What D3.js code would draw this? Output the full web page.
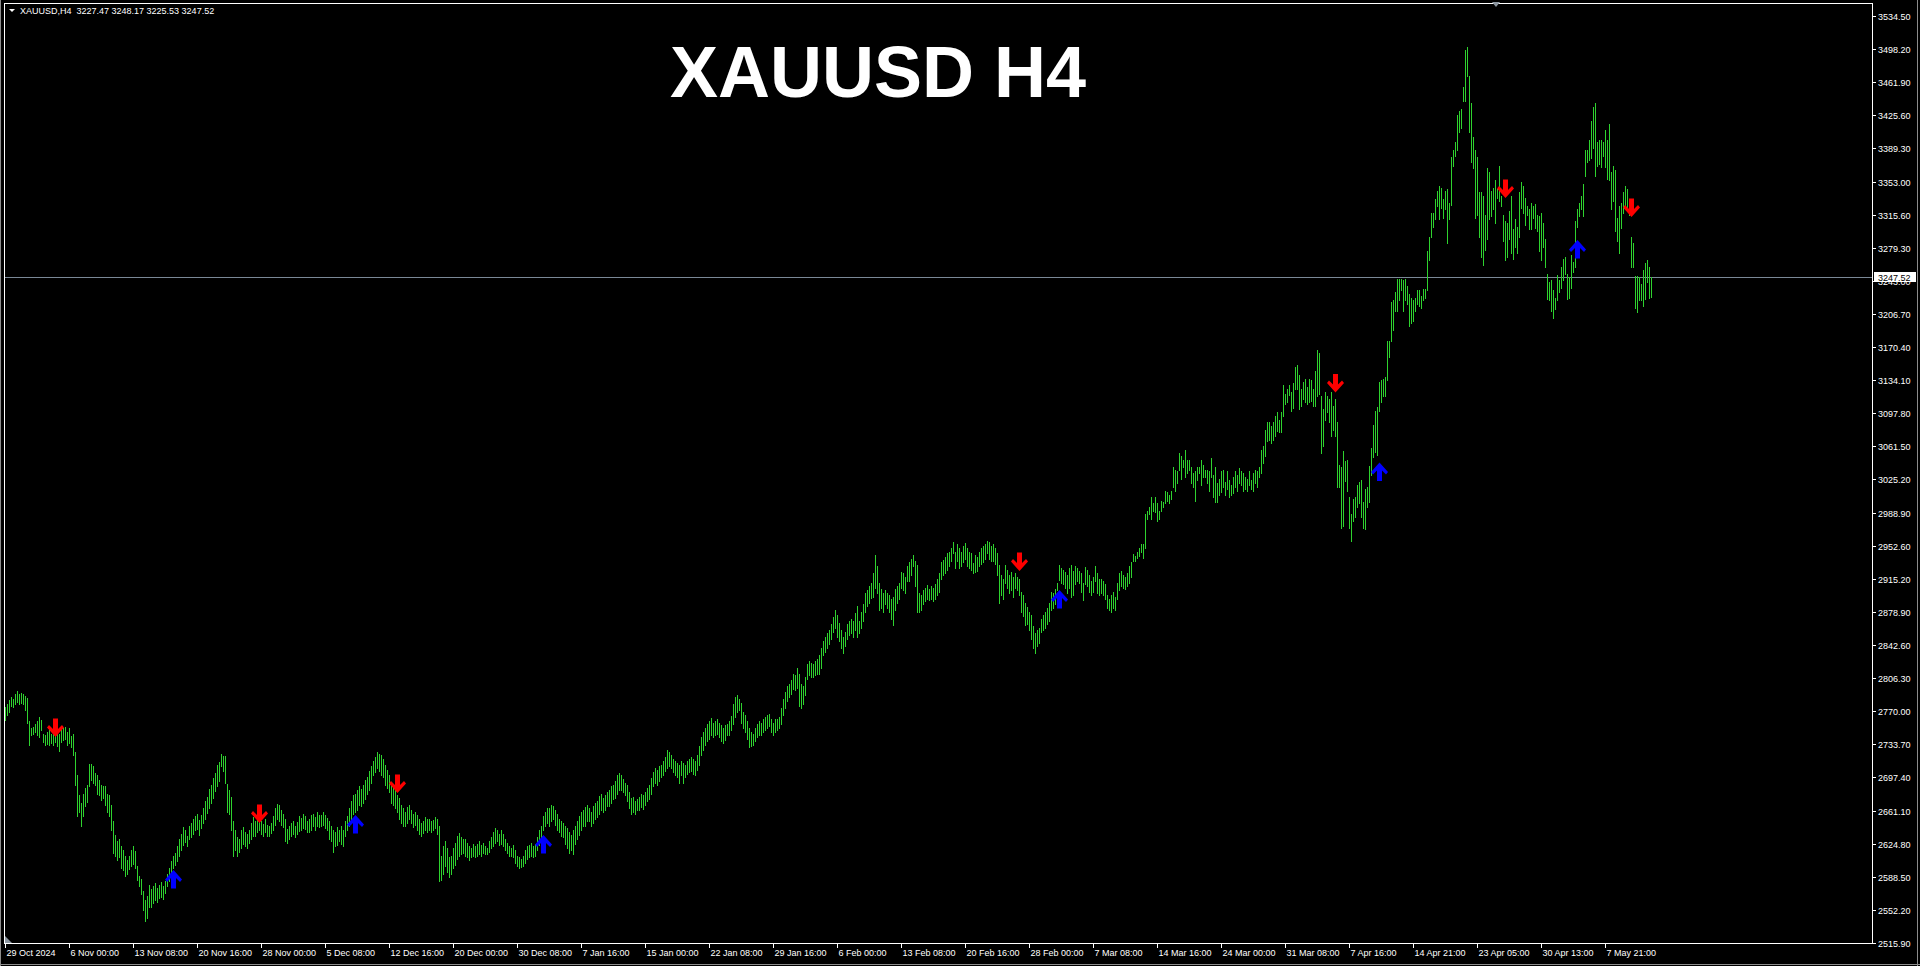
<!DOCTYPE html>
<html><head><meta charset="utf-8">
<script src="https://cdn.jsdelivr.net/npm/d3@7"></script>
<style>html,body{margin:0;padding:0;background:#000;overflow:hidden}svg{display:block}</style>
</head><body>
<svg id="c" width="1920" height="966"></svg>
<script>
// ---- DATA (XAUUSD H4 bars: high / low per bar) ----
const symbol = "XAUUSD,H4";
const lastOHLC = ["3227.47", "3248.17", "3225.53", "3247.52"];
const lastPrice = 3247.52;
const titleText = "XAUUSD H4";

const highs = [
2775,2778,
2783,2786,2784,2790,2793,2789, 2791,2789,2787,2785,2760,2752, 2753,2757,2760,2764,2761,2746,
2744,2748,2750,2746,2749,2748, 2750,2746,2750,2752,2753,2748, 2752,2743,2746,2726,2700,2678,
2670,2680,2686,2689,2713,2713, 2710,2703,2700,2695,2690,2688, 2688,2680,2678,2668,2650,2635,
2628,2630,2622,2618,2612,2607, 2612,2618,2622,2617,2600,2590, 2586,2573,2563,2567,2580,2575,
2578,2582,2576,2580,2583,2579, 2584,2592,2598,2606,2611,2615, 2622,2630,2636,2643,2640,2634,
2645,2648,2652,2655,2658,2651, 2656,2664,2672,2676,2685,2690, 2697,2703,2711,2715,2724,2721,
2721,2691,2684,2676,2650,2640, 2632,2630,2640,2643,2638,2636, 2640,2648,2654,2650,2652,2656,
2650,2647,2652,2646,2644,2648, 2655,2664,2669,2668,2662,2658, 2652,2641,2645,2648,2650,2645,
2649,2655,2653,2658,2655,2650, 2652,2656,2658,2654,2660,2657, 2656,2660,2657,2653,2650,2645,
2640,2638,2643,2640,2644,2640, 2650,2655,2664,2672,2678,2680, 2684,2688,2685,2690,2695,2698,
2705,2710,2716,2720,2726,2724, 2722,2718,2712,2706,2700,2690, 2688,2684,2678,2675,2668,2664,
2660,2665,2668,2662,2658,2660, 2656,2652,2648,2650,2654,2652, 2652,2650,2651,2654,2652,2644,
2612,2622,2628,2620,2610,2612, 2620,2626,2634,2637,2632,2630, 2630,2626,2622,2620,2625,2622,
2625,2628,2624,2626,2622,2620, 2628,2632,2638,2642,2640,2636, 2640,2636,2630,2626,2622,2620,
2624,2618,2612,2610,2608,2612, 2618,2622,2624,2626,2622,2625, 2632,2640,2645,2655,2660,2664,
2664,2668,2666,2662,2658,2652, 2650,2648,2645,2642,2638,2635, 2640,2645,2650,2655,2660,2662,
2665,2668,2664,2660,2666,2670, 2672,2677,2680,2675,2678,2682, 2684,2688,2690,2694,2700,2703,
2700,2696,2692,2690,2682,2675, 2676,2672,2674,2676,2680,2679, 2682,2686,2690,2697,2704,2708,
2706,2710,2712,2716,2720,2728, 2726,2722,2718,2716,2714,2712, 2716,2714,2712,2716,2718,2720,
2718,2716,2722,2732,2742,2748, 2752,2756,2760,2763,2758,2760, 2762,2758,2755,2752,2755,2756,
2760,2765,2778,2786,2788,2784, 2780,2770,2766,2760,2752,2748, 2746,2752,2756,2760,2758,2762,
2764,2766,2768,2762,2758,2762, 2762,2764,2774,2784,2792,2798, 2800,2805,2812,2810,2818,2812,
2800,2798,2808,2822,2826,2824, 2822,2826,2828,2832,2840,2848, 2852,2856,2860,2866,2874,2882,
2876,2868,2860,2852,2858,2866, 2870,2872,2870,2878,2886,2870, 2880,2888,2900,2904,2908,2912,
2922,2942,2930,2912,2905,2900, 2904,2900,2898,2894,2896,2905, 2908,2912,2924,2922,2918,2930,
2934,2938,2942,2936,2931,2900, 2898,2904,2906,2909,2905,2908, 2906,2910,2916,2922,2934,2937,
2940,2944,2946,2950,2956,2946, 2954,2950,2946,2952,2955,2950, 2946,2944,2933,2942,2940,2946,
2950,2952,2954,2958,2956,2952, 2954,2950,2944,2931,2920,2916, 2931,2926,2920,2924,2918,2922,
2918,2916,2902,2898,2889,2885, 2880,2876,2864,2856,2860,2862, 2872,2876,2880,2884,2890,2902,
2900,2905,2912,2931,2928,2926, 2924,2920,2928,2931,2925,2930, 2928,2925,2922,2911,2929,2926,
2920,2914,2918,2930,2922,2916, 2916,2914,2910,2898,2894,2898, 2902,2896,2912,2922,2925,2920,
2918,2922,2930,2934,2943,2941, 2946,2950,2954,2954,2987,2991, 2995,3006,2999,3006,2999,2991,
3002,3000,3013,3012,3008,3013, 3039,3036,3034,3054,3051,3047, 3058,3047,3047,3039,3032,3034,
3039,3039,3047,3041,3036,3036, 3034,3049,3030,3039,3021,3026, 3034,3036,3023,3034,3025,3019,
3028,3034,3030,3038,3034,3032, 3028,3026,3034,3025,3032,3036, 3034,3039,3058,3062,3080,3088,
3088,3084,3088,3095,3099,3091, 3099,3129,3119,3125,3129,3121, 3131,3149,3151,3140,3125,3132,
3136,3127,3136,3134,3125,3144, 3168,3164,3117,3103,3121,3117, 3114,3121,3106,3114,3088,3041,
3039,3056,3045,3047,3006,2987, 3004,3006,3019,3023,3025,3000, 3015,3017,3040,3060,3085,3100,
3105,3132,3134,3136,3138,3177, 3177,3220,3222,3231,3246,3246, 3246,3244,3246,3238,3229,3225,
3222,3225,3233,3233,3227,3235, 3235,3276,3292,3318,3318,3333, 3342,3348,3346,3333,3342,3344,
3329,3380,3387,3396,3426,3430, 3432,3456,3497,3500,3469,3439, 3402,3387,3380,3341,3341,3337,
3316,3368,3363,3342,3346,3354, 3344,3370,3337,3316,3309,3307, 3320,3337,3301,3311,3303,3341,
3352,3348,3335,3326,3322,3329, 3326,3328,3316,3315,3318,3307, 3290,3251,3242,3244,3233,3225,
3250,3244,3259,3268,3270,3251, 3248,3272,3264,3309,3322,3329, 3337,3350,3387,3387,3398,3419,
3435,3439,3396,3398,3398,3396, 3409,3398,3416,3363,3370,3365, 3313,3326,3329,3341,3348,3344,
3333,3292,3285,3249,3249,3248, 3240,3255,3263,3266,3259,3248.17
];

const lows = [
2761,2766,
2770,2776,2775,2779,2781,2779, 2780,2778,2772,2758,2733,2744, 2746,2748,2744,2742,2750,2737,
2733,2735,2734,2736,2734,2737, 2732,2727,2737,2739,2740,2734, 2736,2731,2722,2690,2655,2660,
2645,2655,2666,2671,2688,2695, 2692,2689,2680,2678,2673,2675, 2668,2660,2655,2640,2615,2612,
2607,2610,2598,2596,2590,2592, 2597,2600,2603,2598,2585,2578, 2570,2552,2540,2543,2556,2555,
2560,2563,2561,2565,2566,2564, 2571,2578,2584,2590,2598,2602, 2606,2612,2618,2624,2627,2622,
2630,2632,2636,2640,2641,2635, 2642,2648,2652,2659,2664,2670, 2675,2683,2688,2694,2710,2705,
2692,2660,2658,2640,2612,2618, 2612,2616,2620,2625,2622,2620, 2626,2630,2634,2634,2638,2640,
2636,2633,2638,2634,2634,2637, 2640,2646,2652,2650,2646,2643, 2628,2626,2630,2633,2636,2632,
2636,2639,2640,2642,2641,2638, 2638,2640,2644,2640,2645,2643, 2644,2646,2642,2640,2630,2628,
2616,2622,2624,2628,2625,2622, 2634,2640,2645,2652,2658,2660, 2662,2668,2666,2670,2674,2680,
2684,2692,2700,2704,2708,2705, 2700,2698,2690,2686,2682,2670, 2668,2664,2660,2652,2648,2645,
2645,2648,2652,2648,2643,2646, 2640,2636,2634,2637,2640,2638, 2640,2638,2640,2642,2636,2584,
2585,2592,2600,2594,2588,2592, 2598,2602,2608,2612,2614,2615, 2612,2610,2607,2610,2612,2610,
2612,2614,2612,2615,2614,2614, 2616,2620,2622,2626,2628,2624, 2625,2622,2618,2615,2612,2612,
2610,2604,2600,2598,2599,2600, 2604,2608,2610,2612,2610,2612, 2618,2624,2630,2640,2645,2648,
2645,2650,2652,2646,2640,2638, 2634,2632,2625,2620,2615,2618, 2614,2625,2630,2635,2640,2644,
2645,2650,2650,2645,2648,2652, 2654,2658,2662,2660,2662,2666, 2666,2670,2674,2675,2680,2684,
2684,2682,2678,2672,2664,2658, 2660,2658,2662,2662,2665,2663, 2668,2672,2674,2680,2688,2692,
2690,2694,2698,2700,2705,2708, 2710,2708,2704,2700,2698,2692, 2700,2692,2698,2702,2704,2705,
2702,2700,2706,2712,2722,2728, 2734,2738,2740,2744,2742,2745, 2746,2742,2738,2736,2739,2744,
2745,2750,2756,2764,2770,2772, 2758,2752,2748,2740,2731,2732, 2733,2738,2742,2744,2745,2748,
2750,2752,2754,2748,2744,2748, 2750,2752,2756,2766,2774,2782, 2786,2790,2795,2794,2796,2776,
2774,2778,2788,2806,2810,2808, 2808,2810,2812,2812,2818,2832, 2836,2840,2844,2850,2858,2862,
2852,2848,2840,2835,2842,2850, 2854,2856,2852,2860,2852,2856, 2862,2870,2880,2886,2890,2895,
2896,2906,2900,2882,2884,2880, 2888,2884,2880,2872,2865,2882, 2890,2894,2906,2904,2900,2914,
2914,2920,2930,2908,2880,2880, 2882,2888,2892,2894,2893,2894, 2892,2894,2898,2902,2916,2920,
2922,2926,2930,2936,2944,2928, 2936,2928,2930,2934,2938,2930, 2928,2926,2922,2924,2925,2930,
2932,2935,2938,2944,2938,2936, 2936,2932,2920,2889,2898,2894, 2911,2906,2900,2904,2896,2906,
2904,2898,2880,2875,2865,2866, 2860,2850,2840,2835,2842,2846, 2858,2860,2862,2866,2870,2882,
2884,2888,2904,2915,2912,2910, 2906,2900,2906,2896,2898,2910, 2914,2912,2902,2893,2910,2908,
2902,2898,2902,2914,2900,2898, 2900,2898,2894,2884,2882,2880, 2884,2882,2894,2904,2908,2906,
2905,2908,2912,2918,2936,2936, 2939,2941,2945,2939,2950,2982, 2987,2982,2991,2989,2980,2982,
2991,2995,2999,3002,2999,3004, 3017,3013,3021,3036,3026,3039, 3028,3032,3036,3021,3017,3002,
3025,3032,3019,3028,3028,3021, 3013,3028,3006,3000,3000,3008, 3011,3017,3008,3015,3006,3008,
3010,3017,3013,3021,3019,3013, 3015,3013,3019,3015,3013,3021, 3017,3028,3032,3043,3051,3067,
3069,3065,3069,3073,3078,3077, 3077,3095,3108,3110,3118,3101, 3104,3125,3125,3103,3106,3114,
3110,3108,3110,3112,3106,3106, 3117,3119,3054,3062,3091,3099, 3088,3073,3080,3073,3017,3017,
2972,2974,3024,3013,2972,2958, 2980,2984,2995,2999,2984,2972, 2971,2995,3000,3030,3050,3055,
3052,3100,3110,3117,3117,3135, 3160,3177,3190,3210,3210,3222, 3233,3210,3222,3218,3194,3197,
3199,3210,3218,3216,3214,3222, 3225,3233,3266,3292,3303,3311, 3326,3311,3324,3313,3322,3285,
3311,3327,3370,3381,3387,3407, 3411,3441,3441,3469,3407,3374, 3367,3313,3316,3292,3270,3261,
3277,3289,3311,3315,3322,3307, 3335,3331,3326,3287,3266,3270, 3289,3274,3268,3281,3274,3292,
3324,3318,3305,3316,3300,3300, 3313,3302,3298,3276,3266,3281, 3259,3223,3222,3210,3203,3212,
3222,3231,3236,3244,3251,3223, 3225,3236,3253,3259,3303,3315, 3322,3315,3359,3374,3376,3378,
3389,3359,3370,3372,3369,3381, 3369,3355,3354,3322,3331,3298, 3287,3274,3302,3318,3326,3320,
3316,3259,3259,3214,3209,3222, 3222,3216,3223,3242,3225,3225.53
];

// signal arrows: bar index and price at arrow tip
const sellIdx   = [25, 127, 196, 507, 665, 750, 813];
const sellPrice = [2742.3, 2647.8, 2680.7, 2924.6, 3120.8, 3334.5, 3313.6];
const buyIdx    = [84, 175, 269, 527, 687, 786];
const buyPrice  = [2596.1, 2656.5, 2634.6, 2903.8, 3043.9, 3288.4];

// price axis labels (top to bottom)
const priceLabels = ["3534.50","3498.20","3461.90","3425.60","3389.30","3353.00","3315.60","3279.30","3243.00",
"3206.70","3170.40","3134.10","3097.80","3061.50","3025.20","2988.90","2952.60","2915.20","2878.90","2842.60",
"2806.30","2770.00","2733.70","2697.40","2661.10","2624.80","2588.50","2552.20","2515.90"];
const priceMin = 2515.90, priceMax = 3534.50;

// time axis labels, one every 32 bars
const timeLabels = ["29 Oct 2024","6 Nov 00:00","13 Nov 08:00","20 Nov 16:00","28 Nov 00:00","5 Dec 08:00",
"12 Dec 16:00","20 Dec 00:00","30 Dec 08:00","7 Jan 16:00","15 Jan 00:00","22 Jan 08:00","29 Jan 16:00",
"6 Feb 00:00","13 Feb 08:00","20 Feb 16:00","28 Feb 00:00","7 Mar 08:00","14 Mar 16:00","24 Mar 00:00",
"31 Mar 08:00","7 Apr 16:00","14 Apr 21:00","23 Apr 05:00","30 Apr 13:00","7 May 21:00"];
const labelStep = 32;

// ---- DRAW ----
const svg = d3.select("#c");
const W = 1920, H = 966;
const L = 4, R = 1872, T = 3, B = 943;
const x = d3.scaleLinear().domain([0, 800]).range([5, 1605]);
const y = d3.scaleLinear().domain([priceMin, priceMax]).range([B, 16]);
const font = "'Liberation Sans', Arial, sans-serif";

svg.append("rect").attr("width", W).attr("height", H).attr("fill", "#000");

// window border
svg.append("line").attr("x1",0.5).attr("x2",0.5).attr("y1",0).attr("y2",H).attr("stroke","#8c8c8c");
svg.append("line").attr("x1",1917.5).attr("x2",1917.5).attr("y1",0).attr("y2",H).attr("stroke","#8c8c8c");
svg.append("line").attr("x1",0).attr("x2",W).attr("y1",964.5).attr("y2",964.5).attr("stroke","#8c8c8c");

// chart frame
svg.append("path").attr("d", `M${L+0.5},${B+0.5}V${T+0.5}H${R+0.5}V${B+0.5}H${L+0.5}`)
  .attr("fill","none").attr("stroke","#ffffff").attr("stroke-width",1).attr("shape-rendering","crispEdges");

// current price line
const yl = Math.round(y(lastPrice)) + 0.5;
svg.append("line").attr("x1", L+1).attr("x2", R).attr("y1", yl).attr("y2", yl)
  .attr("stroke", "#7a8896").attr("stroke-width", 1).attr("shape-rendering","crispEdges");

// bars
const n = Math.min(highs.length, lows.length);
const bars = d3.range(n).map(i => ({i, h: highs[i], l: lows[i]}));
svg.append("g").attr("shape-rendering","crispEdges").selectAll("line").data(bars).join("line")
  .attr("x1", d => Math.round(x(d.i)) + 0.5).attr("x2", d => Math.round(x(d.i)) + 0.5)
  .attr("y1", d => Math.round(y(d.h))).attr("y2", d => Math.round(y(d.l)) + 1)
  .attr("stroke", "#2ed22e").attr("stroke-width", 1);

// arrows
const downPath = "M-2.5,0H2.5V10.5L6.5,6.5L8.5,9L0,18.5L-8.5,9L-6.5,6.5L-2.5,10.5Z";
const upPath = "M-2.5,18.5H2.5V8L6.5,12L8.5,9.5L0,0L-8.5,9.5L-6.5,12L-2.5,8Z";
svg.append("g").selectAll("path").data(sellIdx.map((d,k)=>({i:d,p:sellPrice[k]}))).join("path")
  .attr("d", downPath).attr("fill", "#ff0000")
  .attr("transform", d => `translate(${Math.round(x(d.i))+0.5},${y(d.p)-18.5})`);
svg.append("g").selectAll("path").data(buyIdx.map((d,k)=>({i:d,p:buyPrice[k]}))).join("path")
  .attr("d", upPath).attr("fill", "#0000ff")
  .attr("transform", d => `translate(${Math.round(x(d.i))+0.5},${y(d.p)})`);

// price axis
const nT = priceLabels.length;
const tickVals = priceLabels.map((s, k) => priceMax - k * (priceMax - priceMin) / (nT - 1));
const pa = svg.append("g");
tickVals.forEach((v, k) => {
  const ty = Math.round(y(v)) + 0.5;
  pa.append("line").attr("x1", R+1).attr("x2", R+4).attr("y1", ty).attr("y2", ty)
    .attr("stroke","#ffffff").attr("shape-rendering","crispEdges");
  pa.append("text").attr("x", R+6).attr("y", ty + 3.5).text(priceLabels[k])
    .attr("fill","#ffffff").attr("font-family", font).attr("font-size", "9px");
});

// current price tag
svg.append("rect").attr("x", R+2).attr("y", yl-5.5).attr("width", 42).attr("height", 10).attr("fill","#ffffff");
svg.append("text").attr("x", R+6).attr("y", yl+3.5).text(lastPrice.toFixed(2))
  .attr("fill","#000").attr("font-family", font).attr("font-size","9px");

// time axis
const ta = svg.append("g");
timeLabels.forEach((s, k) => {
  const tx = Math.round(x(k * labelStep)) + 0.5;
  ta.append("line").attr("x1", tx).attr("x2", tx).attr("y1", B+1).attr("y2", B+5)
    .attr("stroke","#ffffff").attr("shape-rendering","crispEdges");
  ta.append("text").attr("x", tx + 1).attr("y", 956).text(s)
    .attr("fill","#ffffff").attr("font-family", font).attr("font-size","9px");
});

// markers
svg.append("path").attr("d","M5,936L5,943L12,943Z").attr("fill","#8c96a0");
svg.append("path").attr("d","M1492,2L1500,2L1496,7Z").attr("fill","#8c96a0");

// header
svg.append("path").attr("d","M9,9L15,9L12,12Z").attr("fill","#ffffff");
svg.append("text").attr("x", 20).attr("y", 14).style("white-space","pre")
  .text(symbol + "  " + lastOHLC.join(" "))
  .attr("fill","#ffffff").attr("font-family", font).attr("font-size","9px");

// title
svg.append("text").attr("x", 670).attr("y", 97).text(titleText)
  .attr("fill","#ffffff").attr("font-family", font).attr("font-weight","bold").attr("font-size","72px");
</script>
</body></html>
